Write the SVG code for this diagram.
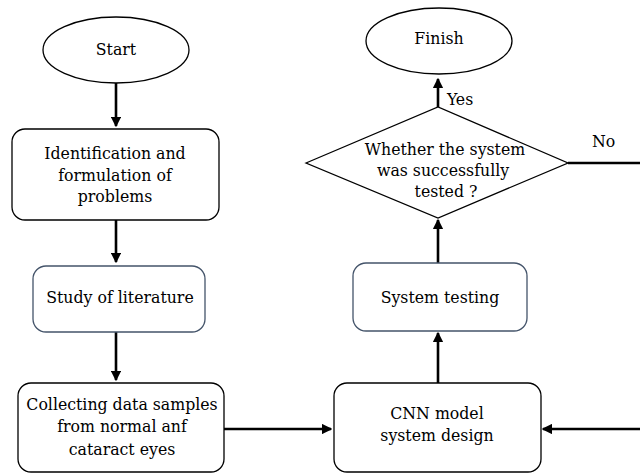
<svg xmlns="http://www.w3.org/2000/svg" width="640" height="473" viewBox="0 0 640 473">
<defs>
<marker id="ah" markerWidth="4" markerHeight="4" refX="3.5" refY="2" orient="auto" markerUnits="strokeWidth">
<path d="M0,0 L4,2 L0,4 Z" fill="#000"/>
</marker>
<style>
.n{fill:#fff;stroke:#000;stroke-width:1.3}
.b{fill:#fff;stroke:#44546a;stroke-width:1.3}
text{font-family:'DejaVu Serif Condensed','Liberation Serif','DejaVu Serif',serif;font-size:17.5px;fill:#000;text-anchor:middle}
.c{fill:none;stroke:#000;stroke-width:2.6}
</style>
</defs>
<rect width="640" height="473" fill="#fff"/>
<g id="connectors">
<line class="c" x1="116" y1="83" x2="116" y2="126" marker-end="url(#ah)"/>
<line class="c" x1="116" y1="220" x2="116" y2="262" marker-end="url(#ah)"/>
<line class="c" x1="116" y1="332" x2="116" y2="380" marker-end="url(#ah)"/>
<line class="c" x1="224" y1="429" x2="331" y2="429" marker-end="url(#ah)"/>
<line class="c" x1="438" y1="383" x2="438" y2="333" marker-end="url(#ah)"/>
<line class="c" x1="438" y1="263" x2="438" y2="220" marker-end="url(#ah)"/>
<line class="c" x1="438" y1="107" x2="438" y2="79" marker-end="url(#ah)"/>
<polyline class="c" points="568,163 644,163 644,429 543,429" marker-end="url(#ah)"/>
<text x="447" y="105" style="text-anchor:start">Yes</text>
<text x="592" y="147" style="text-anchor:start">No</text>
</g>
<g id="start"><ellipse class="n" cx="116" cy="50" rx="73" ry="33"/><text x="116" y="55">Start</text></g>
<g id="identification"><rect class="n" x="12" y="129" width="207" height="91" rx="13"/>
<text x="115" y="159">Identification and</text><text x="115" y="181">formulation of</text><text x="115" y="202">problems</text></g>
<g id="study"><rect class="b" x="33" y="266" width="172" height="66" rx="13"/><text x="120" y="303">Study of literature</text></g>
<g id="collecting"><rect class="n" x="18" y="383" width="206" height="89" rx="13"/>
<text x="122" y="410">Collecting data samples</text><text x="122" y="432">from normal anf</text><text x="122" y="455">cataract eyes</text></g>
<g id="cnn"><rect class="n" x="334" y="383" width="207" height="89" rx="13"/>
<text x="437" y="419">CNN model</text><text x="437" y="441">system design</text></g>
<g id="testing"><rect class="b" x="353" y="263" width="174" height="68" rx="13"/><text x="440" y="303">System testing</text></g>
<g id="decision"><polygon class="n" points="306,163 438,107 568,163 438,218"/>
<text x="445" y="155">Whether the system</text><text x="443" y="176">was successfully</text><text x="446" y="197">tested ?</text></g>
<g id="finish"><ellipse class="n" cx="439" cy="41" rx="73" ry="33"/><text x="439" y="44">Finish</text></g>
</svg>
